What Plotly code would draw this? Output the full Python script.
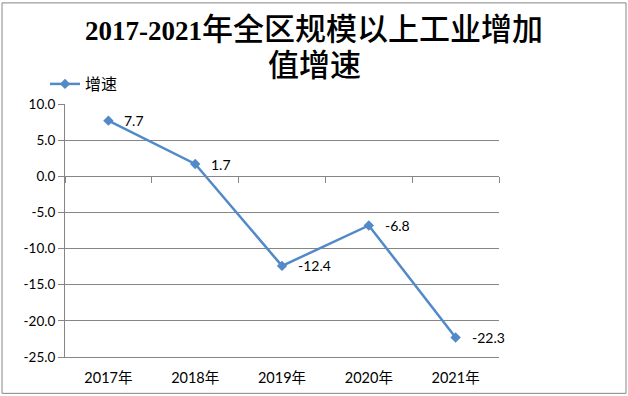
import plotly.graph_objects as go

categories = ["2017年", "2018年", "2019年", "2020年", "2021年"]
growth = [7.7, 1.7, -12.4, -6.8, -22.3]
labels = ["7.7", "1.7", "-12.4", "-6.8", "-22.3"]
y_ticks = [10, 5, 0, -5, -10, -15, -20, -25]
y_tick_text = ["10.0", "5.0", "0.0", "-5.0", "-10.0", "-15.0", "-20.0", "-25.0"]
series_name = "增速"
title_line1 = "<b><span style='font-size:27px'>2017-2021</span></b>年全区规模以上工业增加"
title_line2 = "值增速"

W, H = 628, 396
ML, MR, MT, MB = 65, 129, 103.5, 38.5
GRAY = "#868686"
BLUE = "#5289C9"
FONT = "Lato, Noto Sans CJK SC, sans-serif"
TFONT = dict(family="Liberation Serif, Noto Sans CJK SC, serif",
             size=31, color="#000000", weight=500)

pw = W - ML - MR
ph = H - MT - MB

fig = go.Figure()
fig.add_trace(go.Scatter(
    x=categories, y=growth, name=series_name, mode="lines+markers",
    line=dict(color=BLUE, width=2.5),
    marker=dict(symbol="diamond", size=8, color=BLUE),
    hoverinfo="x+y",
))
# helper trace for the category axis crossing at zero
fig.add_trace(go.Scatter(
    x=categories, y=growth, xaxis="x2", mode="markers",
    marker=dict(opacity=0), showlegend=False, hoverinfo="skip",
))

for c, v, t in zip(categories, growth, labels):
    fig.add_annotation(x=c, y=v, text=t, showarrow=False, xanchor="left",
                       yanchor="middle", xshift=14,
                       font=dict(family=FONT, size=14, color="#000000"))

# second title line
fig.add_annotation(xref="paper", yref="paper", x=(W / 2 - ML) / pw,
                   y=(H - MB - 65) / ph, text=title_line2, showarrow=False,
                   xanchor="center", yanchor="middle", font=TFONT)

ymin, ymax = y_ticks[-1], y_ticks[0]
fig.update_layout(
    width=W, height=H,
    margin=dict(l=ML, r=MR, t=MT, b=MB, pad=0, autoexpand=False),
    paper_bgcolor="white", plot_bgcolor="white",
    title=dict(text=title_line1, x=0.5, xref="container", xanchor="center",
               y=1 - 29 / H, yref="container", yanchor="middle",
               font=TFONT),
    showlegend=True,
    legend=dict(x=45 / W, xref="container", xanchor="left",
                y=1 - 84 / H, yref="container", yanchor="middle",
                font=dict(family=FONT, size=16, color="#000000"),
                bgcolor="rgba(0,0,0,0)", itemwidth=30),
    xaxis=dict(type="category", categoryarray=categories, range=[-0.5, 4.5],
               showgrid=False, showline=True, linecolor=GRAY, linewidth=1,
               ticks="", ticklabelstandoff=8,
               tickfont=dict(family=FONT, size=14.5, color="#000000"),
               zeroline=False, fixedrange=True, automargin=False),
    xaxis2=dict(type="category", categoryarray=categories, range=[-0.5, 4.5],
                overlaying="x", anchor="free",
                position=(0 - ymin) / (ymax - ymin),
                showgrid=False, showline=True, linecolor=GRAY, linewidth=1,
                ticks="outside", tickson="boundaries", ticklen=6,
                tickcolor=GRAY, showticklabels=False, zeroline=False,
                automargin=False),
    yaxis=dict(range=[ymin, ymax], tickvals=y_ticks, ticktext=y_tick_text,
               showgrid=True, gridcolor=GRAY, gridwidth=1,
               showline=True, linecolor=GRAY, linewidth=1,
               ticks="outside", ticklen=6, tickcolor=GRAY,
               tickfont=dict(family=FONT, size=13.5, color="#000000"),
               zeroline=False, fixedrange=True, automargin=False),
)

# outer chart border
fig.add_shape(type="rect", xref="paper", yref="paper",
              x0=(2 - ML) / pw, x1=(W - 2 - ML) / pw,
              y0=-(MB - 2) / ph, y1=(H - 2 - MB) / ph,
              line=dict(color=GRAY, width=1), fillcolor="rgba(0,0,0,0)",
              layer="below")

fig.write_html(
    "out.html",
    config={"displayModeBar": False},
    post_script="document.body.style.margin='0';document.body.style.overflow='hidden';",
)
